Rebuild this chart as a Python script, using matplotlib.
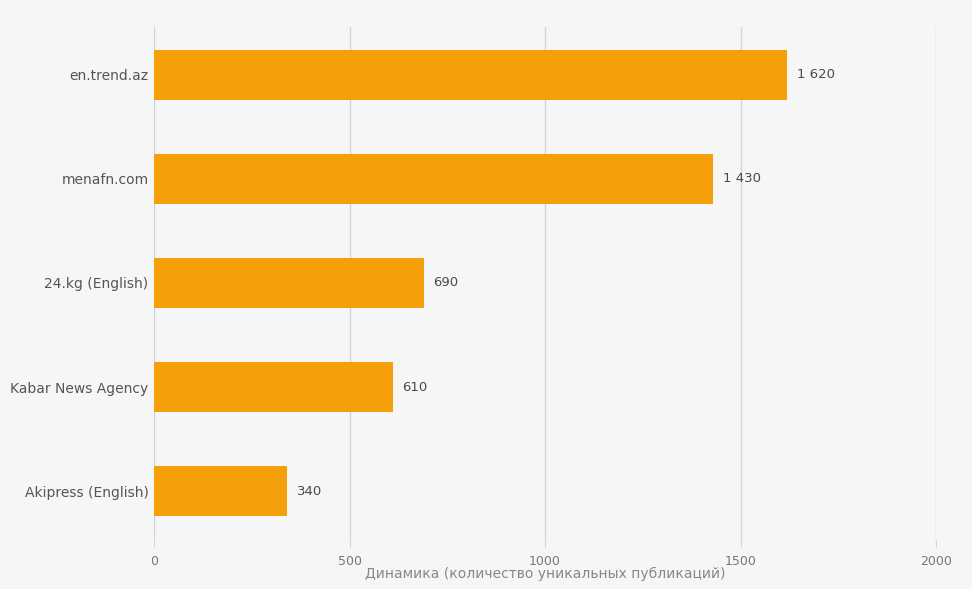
import matplotlib
matplotlib.use("Agg")
import matplotlib.pyplot as plt
import numpy as np

BG = "#F6F6F6"
BAR = "#F5A00B"
GRID = "#D4D4D4"

sources = ["en.trend.az", "menafn.com", "24.kg (English)", "Kabar News Agency", "Akipress (English)"]
counts = [1620, 1430, 690, 610, 340]
xticks = [0, 500, 1000, 1500, 2000]

fig = plt.figure(figsize=(9.72, 5.89), dpi=100)
fig.patch.set_facecolor(BG)
ax = fig.add_axes([154 / 972, 1 - 540 / 589, (936 - 154) / 972, (540 - 27) / 589])
ax.set_facecolor(BG)

y = np.arange(len(sources))
ax.barh(y, counts, height=0.48, color=BAR, zorder=3)
for yi, v in zip(y, counts):
    txt = f"{v:,}".replace(",", " ")
    ax.text(v + 25, yi, txt, va="center", ha="left", fontsize=9.5, color="#4A4A4A")

ax.set_yticks(y)
ax.set_yticklabels(sources, fontsize=10, color="#555555")
ax.set_ylim(len(sources) - 1 + 0.47, -0.46)
ax.set_xlim(0, 2000)
ax.set_xticks(xticks)
ax.set_xticklabels([str(t) for t in xticks], fontsize=9, color="#777777")
ax.tick_params(axis="y", length=0, pad=4)
ax.tick_params(axis="x", length=5, color=GRID, pad=6)
ax.set_xlabel("Динамика (количество уникальных публикаций)", fontsize=10, color="#888888", labelpad=-1)
ax.grid(axis="x", color=GRID, linewidth=1.0, zorder=0)
for s in ax.spines.values():
    s.set_visible(False)

fig.savefig("out.png", dpi=100, facecolor=BG)
